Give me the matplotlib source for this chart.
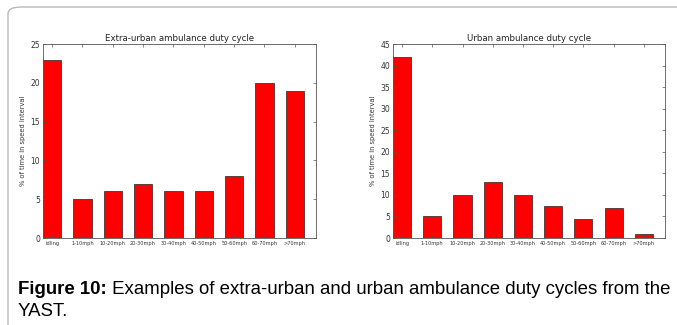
"""Extra-urban and urban ambulance duty cycles (YAST), Figure 10."""
import matplotlib
matplotlib.use('Agg')
import matplotlib.pyplot as plt
from matplotlib.patches import FancyBboxPatch

speed_bins = ['idling', '1-10mph', '10-20mph', '20-30mph', '30-40mph',
              '40-50mph', '50-60mph', '60-70mph', '>70mph']
extra_urban = [23, 5, 6, 7, 6, 6, 8, 20, 19]
urban = [42, 5, 10, 13, 10, 7.5, 4.5, 7, 1]

W, H = 677, 325
fig = plt.figure(figsize=(W / 100, H / 100), dpi=100)

# light frame around the figure panel
frame = FancyBboxPatch((8 / W, -20 / H), 700 / W, (H - 7 + 20) / H,
                       boxstyle='round,pad=0,rounding_size=0.02',
                       transform=fig.transFigure, fill=False,
                       edgecolor='#b8b8b8', linewidth=1.0)
fig.patches.append(frame)


def duty_panel(rect, values, ymax, title):
    ax = fig.add_axes(rect)
    x = range(len(values))
    ax.bar(x, values, width=0.6, align='edge', color='#ff0000',
           edgecolor='#222222', linewidth=0.5)
    ax.set_xlim(0, len(values))
    ax.set_ylim(0, ymax)
    ax.set_yticks(range(0, ymax + 1, 5))
    ax.set_xticks([i + 0.3 for i in x])
    ax.set_xticklabels(speed_bins, fontsize=3.6, color='#333333')
    ax.tick_params(axis='y', labelsize=5.5, labelcolor='#333333')
    ax.tick_params(direction='in', top=True, right=True, length=2.5,
                   width=0.5, color='#555555', pad=2)
    ax.set_ylabel('% of time in speed interval', fontsize=4.8,
                  color='#333333', labelpad=3)
    ax.set_title(title, fontsize=6.2, color='#222222', pad=2)
    for s in ax.spines.values():
        s.set_linewidth(0.6)
        s.set_color('#555555')
    return ax


bottom = (H - 238) / H
height = (238 - 44) / H
duty_panel([43 / W, bottom, (316 - 43) / W, height], extra_urban, 25,
           'Extra-urban ambulance duty cycle')
duty_panel([393 / W, bottom, (665 - 393) / W, height], urban, 45,
           'Urban ambulance duty cycle')

# caption: bold lead-in followed by the plain text on the same line
cap_size = 13.45
lead = fig.text(18 / W, 1 - 290 / H, 'Figure 10:', fontsize=cap_size,
                fontweight='bold', family='Liberation Sans', va='center')
fig.texts.append(matplotlib.text.Annotation(
    ' Examples of extra-urban and urban ambulance duty cycles from the',
    xy=(1, 0.5), xycoords=lead, fontsize=cap_size,
    family='Liberation Sans', va='center', ha='left'))
fig.texts[-1].set_figure(fig)
fig.text(18 / W, 1 - 312 / H, 'YAST.', fontsize=cap_size,
         family='Liberation Sans', va='center')

fig.savefig('out.png', dpi=100)
